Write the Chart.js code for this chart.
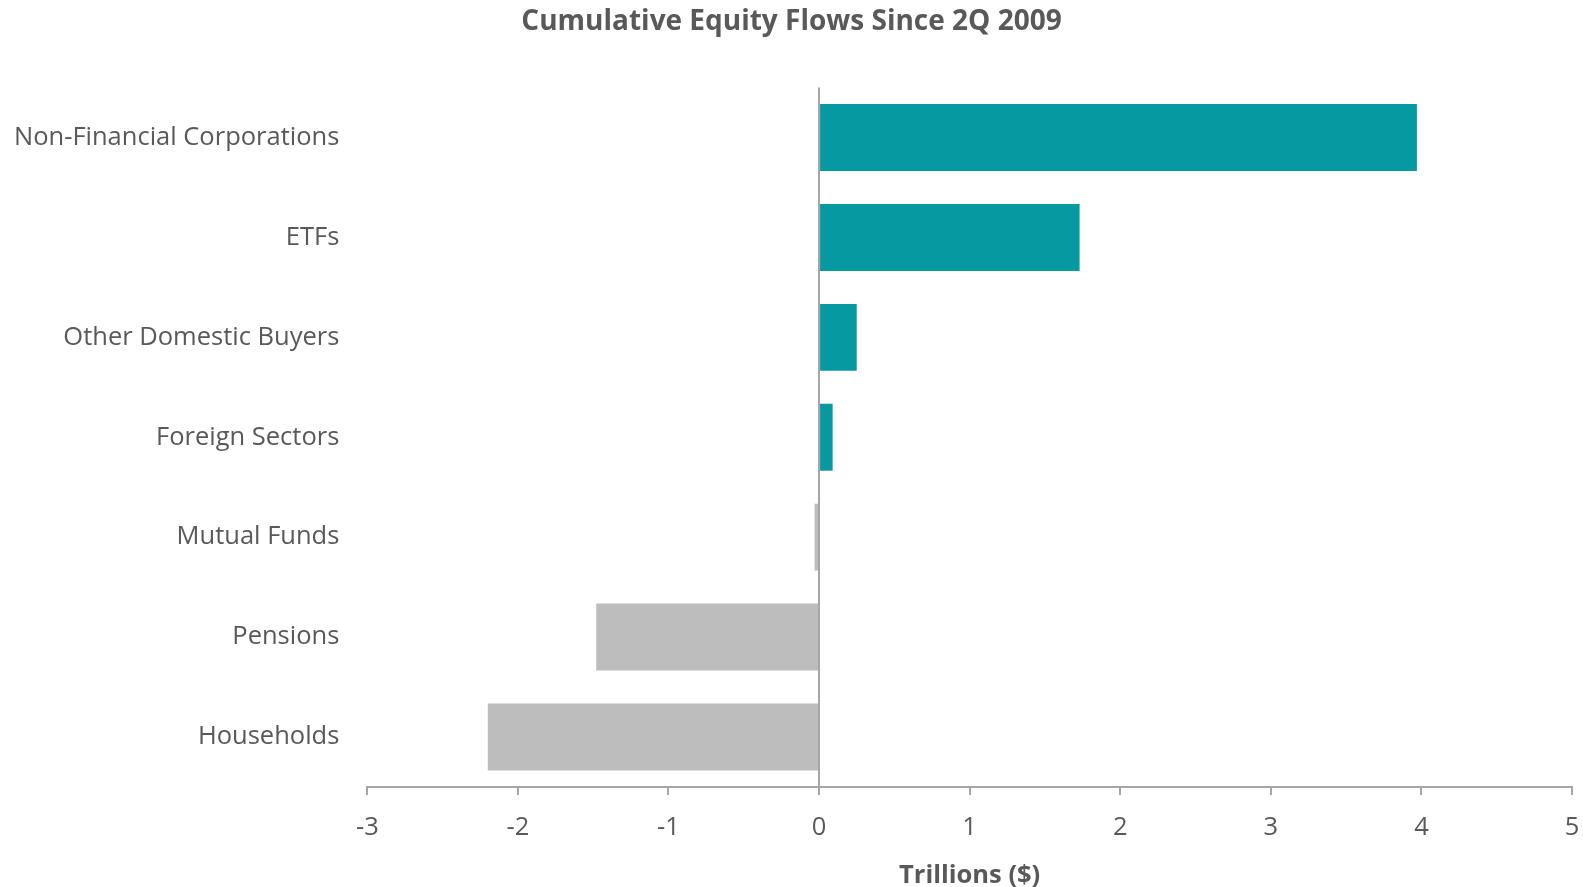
<!DOCTYPE html>
<html>
<head>
<meta charset="utf-8">
<script src="https://cdn.jsdelivr.net/npm/chart.js"></script>
<style>
  html, body { margin: 0; padding: 0; background: #fff; }
  #wrap { width: 1583px; height: 887px; }
</style>
</head>
<body>
<div id="wrap"><canvas id="flowChart"></canvas></div>
<script>
// categories top to bottom
const sectors = ['Non-Financial Corporations', 'ETFs', 'Other Domestic Buyers', 'Foreign Sectors', 'Mutual Funds', 'Pensions', 'Households'];
// cumulative flows, trillions of dollars
const flows = [3.97, 1.73, 0.25, 0.09, -0.03, -1.48, -2.2];
const xTicks = [-3, -2, -1, 0, 1, 2, 3, 4, 5];

const textColor = '#595959';
const axisColor = '#A6A6A6';

function barColor(v) {
  return v >= 0 ? '#0799A1' : '#BDBDBD';
}

const config = {
  type: 'bar',
  data: {
    labels: sectors,
    datasets: [{
      data: flows,
      backgroundColor: flows.map(barColor),
      barPercentage: 0.67,
      categoryPercentage: 1
    }]
  },
  options: {
    indexAxis: 'y',
    responsive: true,
    maintainAspectRatio: false,
    animation: false,
    layout: { padding: { left: -14, right: -14, top: 0, bottom: 0 } },
    plugins: {
      legend: { display: false },
      tooltip: { enabled: false },
      title: {
        display: true,
        text: 'Cumulative Equity Flows Since 2Q 2009',
        color: textColor,
        font: { family: 'Open Sans', size: 28, weight: 'bold' },
        padding: { top: 5, bottom: 49 }
      }
    },
    scales: {
      x: {
        min: -3,
        max: 5,
        afterBuildTicks: (axis) => { axis.ticks = xTicks.map(v => ({ value: v })); },
        // keep the right edge close to the canvas like the original
        afterFit: (axis) => { axis.paddingRight = 11; },
        grid: {
          color: (ctx) => (ctx.tick && ctx.tick.value === 0 ? axisColor : 'rgba(0,0,0,0)'),
          lineWidth: 2,
          tickColor: axisColor,
          tickLength: 8,
          drawOnChartArea: true
        },
        border: { display: true, color: axisColor, width: 2 },
        ticks: {
          color: textColor,
          font: { family: 'Open Sans', size: 25.5 },
          padding: 18
        },
        title: {
          display: true,
          text: 'Trillions ($)',
          color: textColor,
          font: { family: 'Open Sans', size: 25.5, weight: 'bold', lineHeight: 1 },
          padding: { top: 1, bottom: -1 }
        }
      },
      y: {
        grid: { display: false, drawTicks: false },
        border: { display: false },
        ticks: {
          color: textColor,
          font: { family: 'Open Sans', size: 25.5 },
          padding: 28
        }
      }
    }
  }
};

const myChart = new Chart(document.getElementById('flowChart'), config);
</script>
</body>
</html>
